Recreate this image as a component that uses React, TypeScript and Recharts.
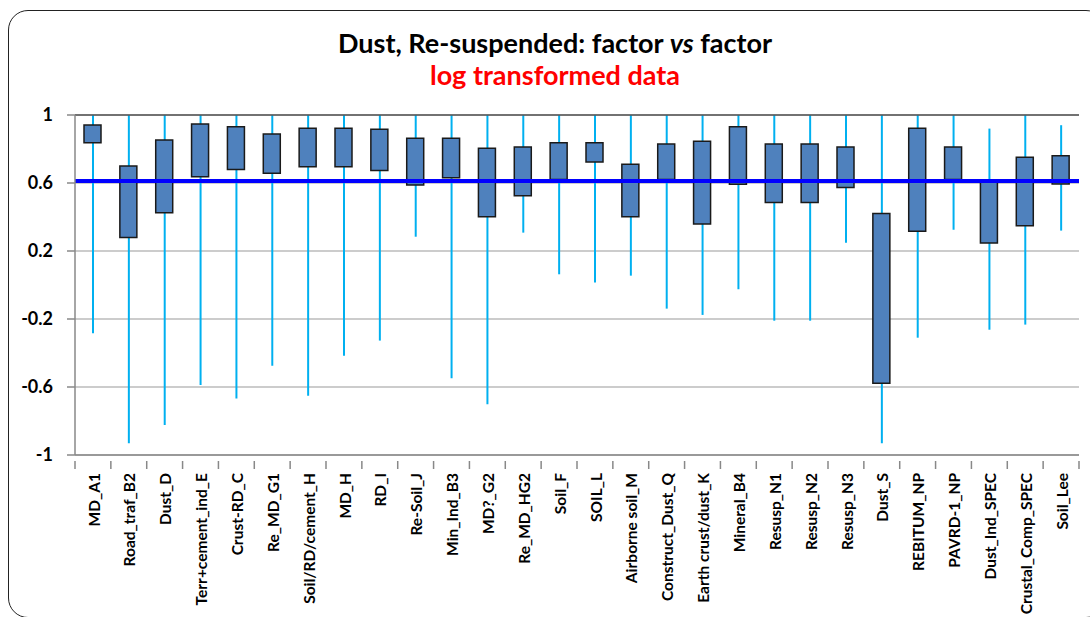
import React from 'react'
import {
  ComposedChart,
  Bar,
  XAxis,
  YAxis,
  CartesianGrid,
  ReferenceLine,
} from 'recharts'

const categories = [
  'MD_A1', 'Road_traf_B2', 'Dust_D', 'Terr+cement_ind_E', 'Crust-RD_C', 'Re_MD_G1',
  'Soil/RD/cement_H', 'MD_H', 'RD_I', 'Re-Soil_J', 'Min_Ind_B3', 'MD?_G2', 'Re_MD_HG2',
  'Soil_F', 'SOIL_L', 'Airborne soil_M', 'Construct_Dust_Q', 'Earth crust/dust_K',
  'Mineral_B4', 'Resusp_N1', 'Resusp_N2', 'Resusp_N3', 'Dust_S', 'REBITUM_NP',
  'PAVRD-1_NP', 'Dust_Ind_SPEC', 'Crustal_Comp_SPEC', 'Soil_Lee',
]

// whisker ends (min / max)
const whiskerLow = [
  -0.284, -0.931, -0.824, -0.588, -0.667, -0.475, -0.651, -0.416, -0.327, 0.284,
  -0.549, -0.702, 0.308, 0.063, 0.014, 0.055, -0.139, -0.176, -0.025, -0.21,
  -0.21, 0.249, -0.931, -0.31, 0.325, -0.263, -0.233, 0.32,
]
const whiskerHigh = [
  1, 1, 1, 1, 1, 1, 1, 1, 1, 1, 1, 1, 1, 1, 1, 1, 1, 1, 1, 1, 1, 1, 1, 1, 1, 0.92, 1, 0.94,
]

// box ends (lower / upper quartile)
const boxLow = [
  0.837, 0.28, 0.425, 0.637, 0.68, 0.657, 0.696, 0.696, 0.673, 0.588, 0.631, 0.402,
  0.525, 0.62, 0.724, 0.402, 0.62, 0.359, 0.592, 0.486, 0.486, 0.573, -0.578, 0.316,
  0.62, 0.247, 0.349, 0.594,
]
const boxHigh = [
  0.941, 0.7, 0.853, 0.947, 0.931, 0.888, 0.922, 0.922, 0.916, 0.863, 0.863, 0.804,
  0.812, 0.837, 0.837, 0.71, 0.829, 0.845, 0.931, 0.829, 0.829, 0.812, 0.42, 0.922,
  0.812, 0.61, 0.751, 0.761,
]

const threshold = 0.612
const yTicks = [-1, -0.6, -0.2, 0.2, 0.6, 1]

const data = categories.map((name, i) => ({
  name,
  whisker: [whiskerLow[i], whiskerHigh[i]],
  box: [boxLow[i], boxHigh[i]],
}))

const PLOT_W = 1004
const BAND = PLOT_W / categories.length
const FONT = "Lato, 'Open Sans', sans-serif"

const XTick = (props: any) => {
  const { x, y, payload, index } = props
  return (
    <g transform={`translate(${x},${y})`}>
      <line x1={-BAND / 2} x2={-BAND / 2} y1={-2} y2={6} stroke="#888" strokeWidth={1.5} />
      {index === categories.length - 1 && (
        <line x1={BAND / 2} x2={BAND / 2} y1={-2} y2={6} stroke="#888" strokeWidth={1.5} />
      )}
      <text
        transform="rotate(-90)"
        x={-10}
        y={1}
        dy="0.36em"
        textAnchor="end"
        fontSize={15.5}
        fontWeight={700}
        fill="#000"
        fontFamily={FONT}
      >
        {payload.value}
      </text>
    </g>
  )
}

export default function App() {
  return (
    <div style={{ position: 'absolute', left: 0, top: 0, width: 1090, height: 617, background: '#fff', overflow: 'hidden' }}>
      <div
        style={{
          position: 'absolute',
          left: 8,
          top: 10,
          width: 1096,
          height: 606,
          border: '1.5px solid #222',
          borderRadius: 20,
        }}
      />
      <div
        style={{
          position: 'absolute',
          top: 25,
          left: 0,
          width: 1110,
          textAlign: 'center',
          fontFamily: FONT,
          fontWeight: 700,
        }}
      >
        <div style={{ fontSize: 27, color: '#000', lineHeight: '35px' }}>
          Dust, Re-suspended: factor <i>vs</i> factor
        </div>
        <div style={{ fontSize: 27, color: '#ff0000', lineHeight: '30px' }}>log transformed data</div>
      </div>
      <div style={{ position: 'absolute', left: 0, top: 0 }}>
        <ComposedChart
          width={1090}
          height={617}
          data={data}
          margin={{ top: 115, right: 11, bottom: 0, left: 0 }}
        >
          <CartesianGrid horizontal vertical={false} stroke="#9a9a9a" strokeWidth={1.2} />
          <XAxis
            dataKey="name"
            xAxisId="main"
            interval={0}
            height={162}
            tickLine={false}
            axisLine={{ stroke: '#888', strokeWidth: 1.5 }}
            tick={<XTick />}
          />
          <XAxis dataKey="name" xAxisId="w" hide />
          <YAxis
            domain={[-1, 1]}
            ticks={yTicks}
            width={75}
            allowDataOverflow
            tickSize={8}
            tickMargin={14}
            tickLine={{ stroke: '#888', strokeWidth: 1.5 }}
            axisLine={{ stroke: '#888', strokeWidth: 1.5 }}
            tick={{ fill: '#000', fontSize: 18, fontWeight: 700, fontFamily: FONT }}
          />
          <YAxis
            yAxisId="r"
            orientation="right"
            domain={[-1, 1]}
            width={0}
            tick={false}
            tickLine={false}
            axisLine={{ stroke: '#444', strokeWidth: 1.5 }}
          />
          <ReferenceLine y={1} stroke="#555" strokeWidth={1.5} xAxisId="main" />
          <Bar
            dataKey="whisker"
            xAxisId="w"
            barSize={2}
            fill="#00b0f0"
            isAnimationActive={false}
          />
          <Bar
            dataKey="box"
            xAxisId="main"
            barSize={17}
            fill="#4f81bd"
            stroke="#1a1a1a"
            strokeWidth={1.5}
            isAnimationActive={false}
          />
          <ReferenceLine y={threshold} stroke="#0000ff" strokeWidth={4} xAxisId="main" />
        </ComposedChart>
      </div>
    </div>
  )
}
